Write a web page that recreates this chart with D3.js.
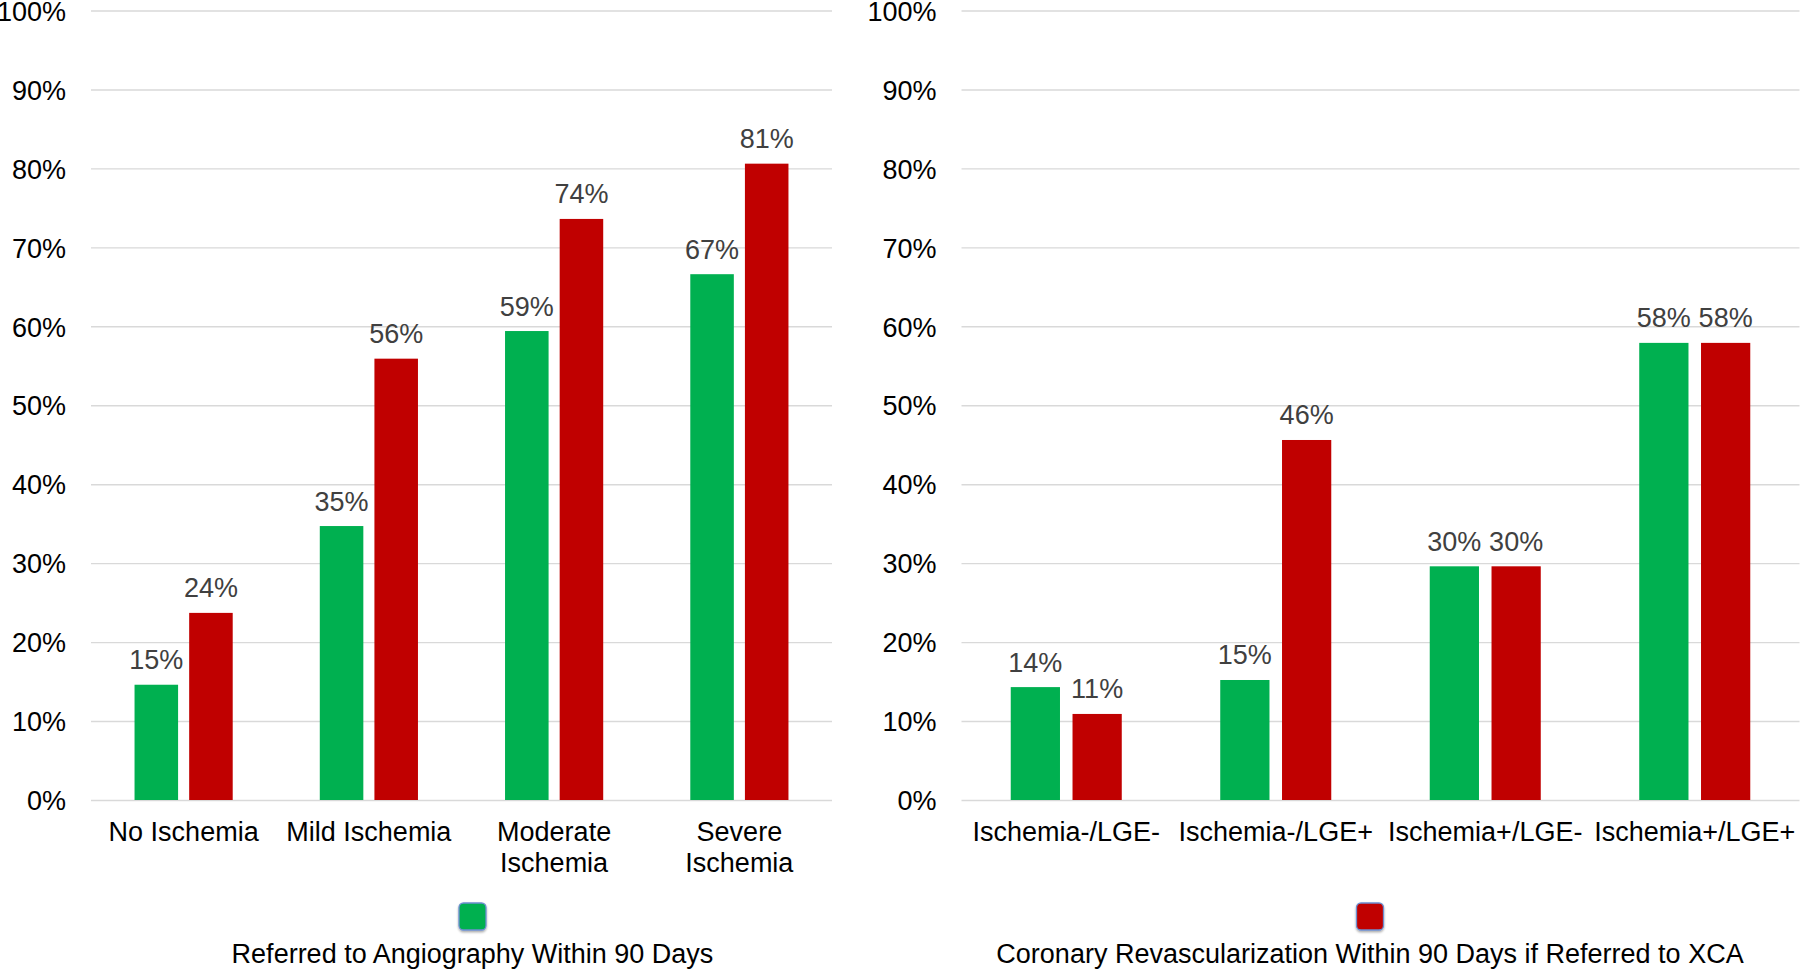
<!DOCTYPE html>
<html>
<head>
<meta charset="utf-8">
<script src="https://cdn.jsdelivr.net/npm/d3@7/dist/d3.min.js"></script>
<style>
  html, body { margin: 0; padding: 0; background: #ffffff; }
  svg { display: block; }
  text { font-family: "Liberation Sans", Arial, sans-serif; }
</style>
</head>
<body>
<svg id="chart" width="1800" height="969"></svg>
<script>
// ---- Data ----
const leftCategories = ["No Ischemia", "Mild Ischemia", "Moderate\nIschemia", "Severe\nIschemia"];
const leftGreen = [14.6, 34.7, 59.4, 66.6];
const leftRed = [23.7, 55.9, 73.6, 80.6];
const leftTitle = "Referred to Angiography Within 90 Days";

const rightCategories = ["Ischemia-/LGE-", "Ischemia-/LGE+", "Ischemia+/LGE-", "Ischemia+/LGE+"];
const rightGreen = [14.3, 15.2, 29.6, 57.9];
const rightRed = [10.9, 45.6, 29.6, 57.9];
const rightTitle = "Coronary Revascularization Within 90 Days if Referred to XCA";

const seriesNames = ["green", "red"];
const yTicks = [0, 10, 20, 30, 40, 50, 60, 70, 80, 90, 100];

// ---- Style ----
const colors = { green: "#00B050", red: "#C00000" };
const FONT = 27;

const svg = d3.select("#chart");
const y = d3.scaleLinear().domain([0, 100]).range([800, 10.5]);

const defs = svg.append("defs");
const f = defs.append("filter").attr("id", "shadow").attr("x", "-30%").attr("y", "-30%").attr("width", "160%").attr("height", "160%");
f.append("feDropShadow").attr("dx", 0).attr("dy", 1.5).attr("stdDeviation", 1.2).attr("flood-color", "#000").attr("flood-opacity", 0.35);

function drawPanel(cfg) {
  const g = svg.append("g");
  const x = d3.scaleBand().domain(cfg.categories).range([cfg.x0, cfg.x1]).paddingInner(0).paddingOuter(0);
  const xs = d3.scaleBand().domain(seriesNames).range([0, x.bandwidth()]).paddingInner(0.203).paddingOuter(0.797);

  // gridlines + y tick labels
  const axis = d3.axisLeft(y).tickValues(yTicks).tickFormat(d => d + "%")
    .tickSize(-(cfg.x1 - cfg.x0)).tickPadding(25);
  const ag = g.append("g").attr("transform", `translate(${cfg.x0},0)`).call(axis);
  ag.select(".domain").remove();
  ag.selectAll(".tick line").attr("stroke", "#d9d9d9").attr("stroke-width", 1.4);
  ag.selectAll(".tick text").attr("font-size", FONT).attr("fill", "#000")
    .attr("dy", "0.36em")
    .style("font-family", "'Liberation Sans', Arial, sans-serif");

  const rows = cfg.categories.map((c, i) => ({ cat: c, green: cfg.green[i], red: cfg.red[i] }));
  const flat = [];
  rows.forEach(r => seriesNames.forEach(s => flat.push({ cat: r.cat, s, v: r[s] })));

  g.selectAll("rect.bar").data(flat).enter().append("rect")
    .attr("class", "bar")
    .attr("x", d => x(d.cat) + xs(d.s))
    .attr("width", xs.bandwidth())
    .attr("y", d => y(d.v))
    .attr("height", d => y(0) - y(d.v))
    .attr("fill", d => colors[d.s]);

  const fmt = d3.format(".0f");
  g.selectAll("text.val").data(flat).enter().append("text")
    .attr("class", "val")
    .attr("x", d => x(d.cat) + xs(d.s) + xs.bandwidth() / 2)
    .attr("y", d => y(d.v) - 15.5)
    .attr("text-anchor", "middle")
    .attr("font-size", FONT)
    .attr("fill", "#404040")
    .text(d => fmt(d.v) + "%");

  // category labels
  const cl = g.selectAll("text.cat").data(cfg.categories).enter().append("text")
    .attr("class", "cat")
    .attr("text-anchor", "middle")
    .attr("font-size", FONT)
    .attr("fill", "#000");
  cl.each(function (d) {
    const t = d3.select(this);
    d.split("\n").forEach((line, i) => {
      t.append("tspan").attr("x", x(d) + x.bandwidth() / 2).attr("y", 841 + i * 31).text(line);
    });
  });

  // legend
  g.append("rect")
    .attr("x", cfg.legendCx - 13.5).attr("y", 903)
    .attr("width", 27).attr("height", 27).attr("rx", 4.5)
    .attr("fill", colors[cfg.legendSeries])
    .attr("stroke", "#6d8fd0").attr("stroke-width", 1.3)
    .attr("filter", "url(#shadow)");
  g.append("text")
    .attr("x", cfg.legendCx).attr("y", 963)
    .attr("text-anchor", "middle")
    .attr("font-size", FONT)
    .attr("fill", "#000")
    .text(cfg.title);
}

drawPanel({ categories: leftCategories, green: leftGreen, red: leftRed, x0: 91, x1: 832,
  legendSeries: "green", legendCx: 472.5, title: leftTitle });
drawPanel({ categories: rightCategories, green: rightGreen, red: rightRed, x0: 961.5, x1: 1799.5,
  legendSeries: "red", legendCx: 1370, title: rightTitle });
</script>
</body>
</html>
